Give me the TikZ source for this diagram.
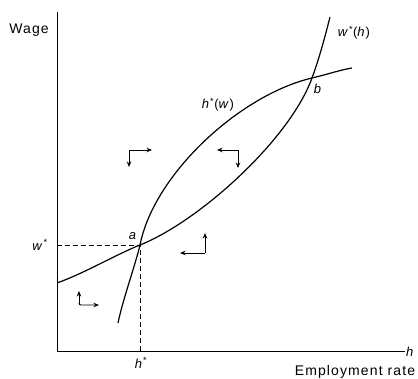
\documentclass[tikz,border=0pt]{standalone}
\usepackage{fontspec}
\setmainfont{Liberation Sans}
\usetikzlibrary{arrows.meta, positioning}

\begin{document}
\begin{tikzpicture}[x=1pt, y=1pt,
        font=\fontsize{13}{15}\selectfont\addfontfeatures{LetterSpace=8},
        curve/.style={line width=1.2pt},
        guide/.style={line width=0.8pt, dash pattern=on 5pt off 3pt},
        move/.style={-{Stealth[length=5.5pt, width=4.5pt]}, line width=0.9pt}]
    \useasboundingbox (0,0) rectangle (418,379);
    \coordinate (o) at (57,27);
    \coordinate (ytop) at (57,367);
    \coordinate (xend) at (405,27);
    \coordinate (a) at (140,134);
    \coordinate (b) at (312,301);

    % axes
    \draw[line width=1pt] (ytop) -- (o) -- (xend);
    \node[anchor=west, inner sep=1pt] (hax) at (xend) {\textit{h}};
    \node[font=\fontsize{14}{16}\selectfont\addfontfeatures{LetterSpace=8}] (wage) at (29,349) {Wage};
    \node[font=\fontsize{14}{16}\selectfont\addfontfeatures{LetterSpace=8}] (emp) at (355,7) {Employment rate};

    % equilibrium a
    \draw[guide] (o|-a) -- (a) -- (a|-o);
    \node (wstar) at (40,134) {\textit{w}\textsuperscript{*}};
    \node (hstar) at (141,16) {\textit{h}\textsuperscript{*}};
    \node (alab) at (133,143) {\textit{a}};
    \node (blab) at (318,290) {\textit{b}};

    % reaction curves
    \draw[curve] (118,56) .. controls (123,80) and (135,113) .. (a)
        .. controls (154,205) and (240,284) .. (b)
        .. controls (327,304.5) and (340,309) .. (352,311);
    \draw[curve] (57,96) .. controls (85,106) and (115,124) .. (a)
        .. controls (200,158) and (290,240) .. (b)
        .. controls (319,320) and (325,342) .. (330,362);
    \node (hw) at (218,274) {\textit{h}\textsuperscript{*}(\textit{w})};
    \node (wh) at (354,346) {\textit{w}\textsuperscript{*}(\textit{h})};

    % directions of motion
    \coordinate (m1) at (129,229);
    \coordinate (m2) at (238,229);
    \coordinate (m3) at (205,126);
    \coordinate (m4) at (79,75);
    \draw[move] (m1) -- ++(23,0);
    \draw[move] (m1) -- ++(0,-17);
    \draw[move] (m2) -- ++(-21,0);
    \draw[move] (m2) -- ++(0,-18);
    \draw[move] (m3) -- ++(-25,0);
    \draw[move] (m3) -- ++(0,20);
    \draw[move] (m4) -- ++(0,13);
    \draw[move, rounded corners=2pt] (m4) ++(0,1) |- ++(20,-2);
\end{tikzpicture}
\end{document}
